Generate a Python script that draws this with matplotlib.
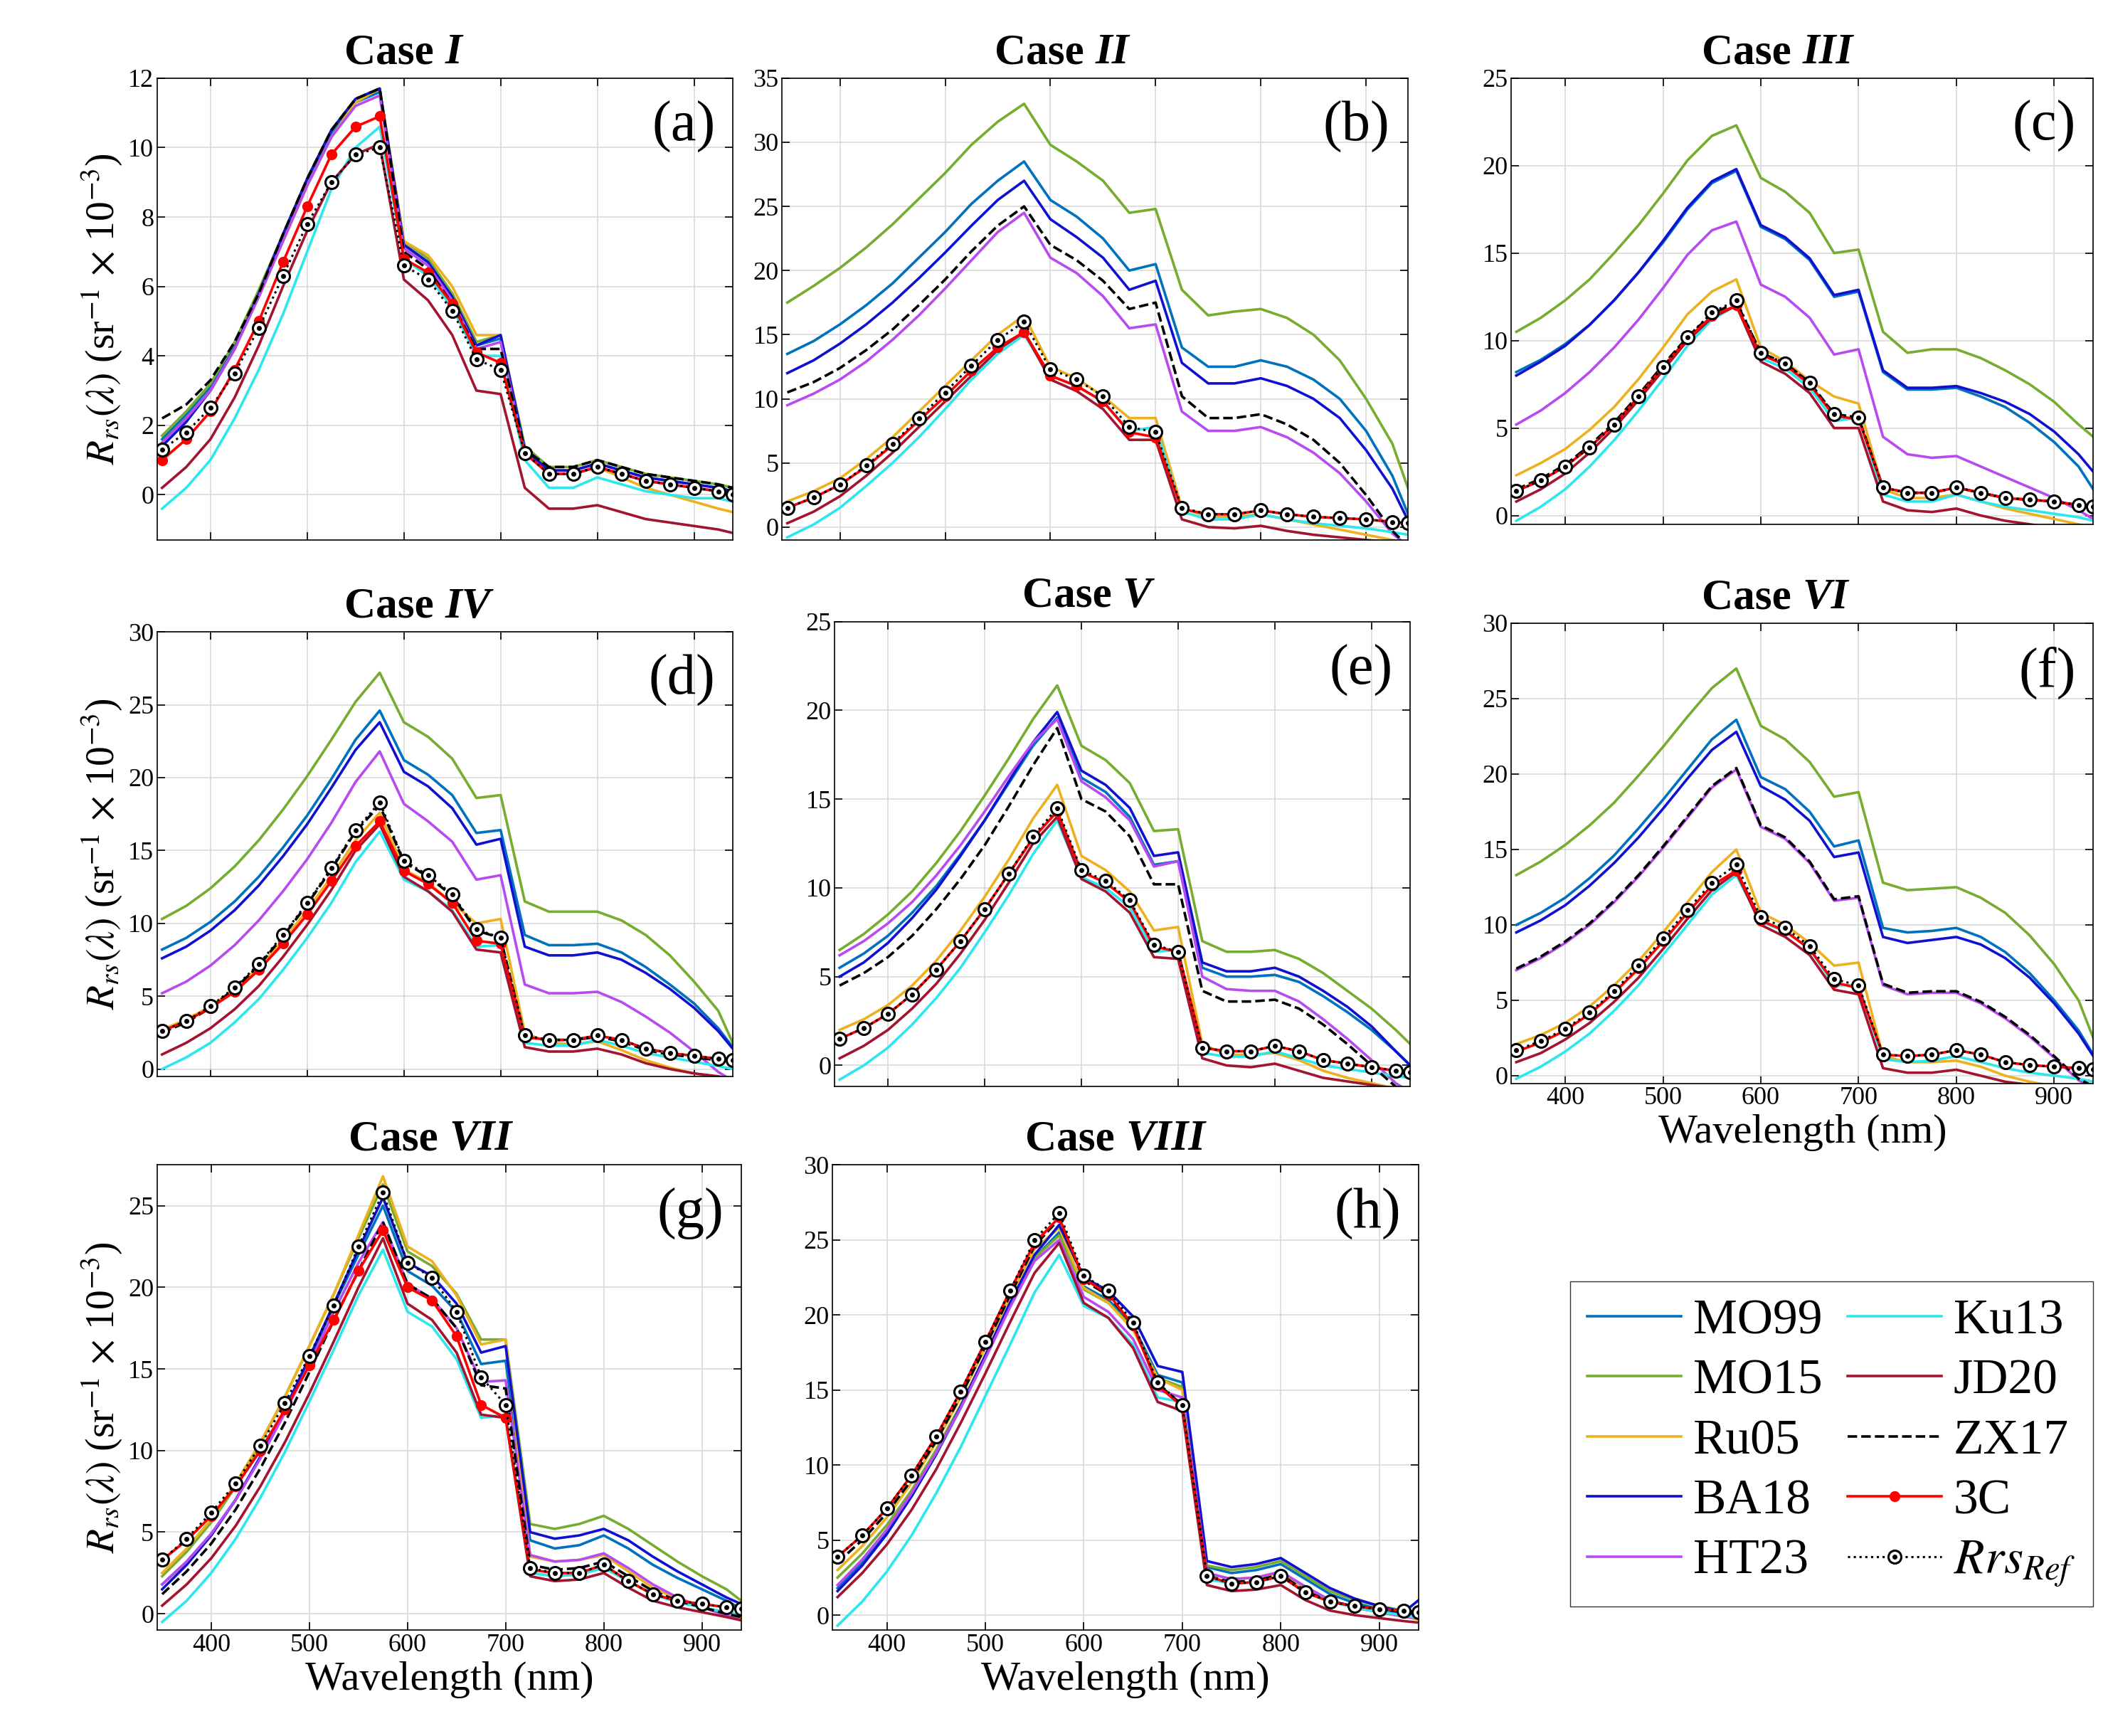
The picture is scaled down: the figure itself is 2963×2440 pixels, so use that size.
import matplotlib
matplotlib.use("Agg")
import matplotlib.pyplot as plt
from matplotlib.legend_handler import HandlerTuple

plt.rcParams["font.family"] = "Liberation Serif"
plt.rcParams["mathtext.fontset"] = "stix"

wl = [350, 375, 400, 425, 450, 475, 500, 525, 550, 575, 600, 625, 650,
      675, 700, 725, 750, 775, 800, 825, 850, 875, 900, 925, 940]

cases = ["I", "II", "III", "IV", "V", "VI", "VII", "VIII"]
letters = ["(a)", "(b)", "(c)", "(d)", "(e)", "(f)", "(g)", "(h)"]
ylims = [(-1.3, 12), (-1, 35), (-0.5, 25), (-0.5, 30), (-1.2, 25), (-0.5, 30), (-1, 27.5), (-1, 30)]
ysteps = [2, 5, 5, 5, 5, 5, 5, 5]

mo99 = [
    [1.6,2.3,3.1,4.3,5.8,7.4,9.0,10.4,11.3,11.6,7.2,6.7,5.7,4.3,4.5,1.3,0.7,0.7,0.9,0.7,0.5,0.4,0.3,0.2,0.1],
    [13.5,14.5,15.8,17.3,19.0,21.0,23.0,25.2,27.0,28.5,25.5,24.2,22.5,20.0,20.5,14.0,12.5,12.5,13.0,12.5,11.5,10.0,7.5,4.0,1.0],
    [8.2,8.9,9.8,10.9,12.3,13.9,15.6,17.5,19.0,19.7,16.5,15.8,14.6,12.5,12.8,8.2,7.2,7.2,7.3,6.8,6.2,5.3,4.2,2.8,1.5],
    [8.2,9.0,10.1,11.5,13.2,15.2,17.4,19.9,22.6,24.6,21.2,20.2,18.8,16.2,16.4,9.2,8.5,8.5,8.6,8.0,7.0,5.8,4.5,2.8,1.5],
    [5.5,6.3,7.3,8.6,10.1,11.9,13.8,15.9,18.0,19.6,16.2,15.4,14.0,11.3,11.5,5.5,5.0,5.0,5.1,4.7,3.9,3.0,2.0,0.8,0.0],
    [10.0,10.8,11.8,13.1,14.6,16.4,18.3,20.3,22.3,23.6,19.8,19.0,17.5,15.2,15.6,9.8,9.5,9.6,9.8,9.2,8.2,6.8,5.0,3.0,1.4],
    [1.8,3.2,4.9,7.0,9.6,12.5,15.6,18.9,22.0,25.0,21.0,20.1,18.5,15.3,15.5,4.5,4.0,4.2,4.8,4.0,3.0,2.2,1.5,0.8,0.3],
    [1.8,3.5,5.5,7.9,10.7,13.8,17.2,20.6,23.8,25.5,21.9,21.0,19.3,16.0,15.5,3.2,2.8,3.0,3.4,2.4,1.4,0.8,0.4,0.1,0.0],
]
mo15 = [
    [1.7,2.4,3.2,4.4,5.9,7.5,9.1,10.5,11.4,11.7,7.3,6.8,5.8,4.4,4.6,1.4,0.8,0.8,1.0,0.8,0.6,0.5,0.4,0.3,0.2],
    [17.5,18.8,20.2,21.8,23.6,25.6,27.6,29.8,31.6,33.0,29.8,28.5,27.0,24.5,24.8,18.5,16.5,16.8,17.0,16.3,15.0,13.0,10.0,6.5,3.0],
    [10.5,11.3,12.3,13.5,15.0,16.6,18.4,20.3,21.7,22.3,19.3,18.5,17.3,15.0,15.2,10.5,9.3,9.5,9.5,9.0,8.3,7.5,6.5,5.2,4.5],
    [10.3,11.2,12.4,13.9,15.7,17.8,20.1,22.6,25.2,27.2,23.8,22.8,21.3,18.6,18.8,11.5,10.8,10.8,10.8,10.2,9.2,7.8,6.0,4.0,1.8],
    [6.5,7.4,8.5,9.8,11.4,13.2,15.2,17.3,19.5,21.4,18.0,17.2,15.9,13.2,13.3,7.0,6.4,6.4,6.5,6.0,5.2,4.2,3.2,2.0,1.2],
    [13.3,14.2,15.3,16.6,18.1,19.9,21.8,23.8,25.7,27.0,23.2,22.3,20.8,18.5,18.8,12.8,12.3,12.4,12.5,11.8,10.8,9.3,7.4,5.0,2.5],
    [2.3,3.8,5.6,7.8,10.4,13.3,16.4,19.6,23.0,26.3,22.2,21.3,19.6,16.8,16.8,5.5,5.2,5.5,6.0,5.2,4.2,3.2,2.3,1.5,0.8],
    [2.5,4.1,6.0,8.3,11.0,14.0,17.3,20.7,23.8,25.3,21.7,20.8,19.1,15.8,15.2,3.3,3.0,3.2,3.6,2.6,1.6,1.0,0.6,0.3,0.2],
]
ru05 = [
    [1.5,2.2,3.0,4.2,5.7,7.3,8.9,10.3,11.3,11.7,7.3,6.9,6.0,4.6,4.6,1.2,0.6,0.6,0.8,0.5,0.2,0.0,-0.2,-0.4,-0.5],
    [2.0,2.8,3.8,5.3,7.0,9.0,11.0,13.0,15.0,16.5,12.5,11.6,10.2,8.5,8.5,1.5,0.8,0.8,1.0,0.6,0.2,-0.2,-0.6,-1.0,-1.2],
    [2.3,3.0,3.8,4.9,6.2,7.8,9.6,11.5,12.8,13.5,9.6,8.8,7.7,6.8,6.4,1.5,1.0,1.0,1.2,0.8,0.4,0.1,-0.2,-0.5,-0.7],
    [2.7,3.4,4.3,5.5,7.0,8.8,10.9,13.2,15.7,17.6,13.7,12.8,11.4,10.0,10.3,2.5,1.8,1.7,1.9,1.3,0.6,0.1,-0.3,-0.6,-0.8],
    [2.0,2.6,3.4,4.5,5.9,7.6,9.5,11.6,13.9,15.8,11.8,11.0,9.8,7.6,7.8,1.2,0.6,0.6,0.7,0.3,-0.3,-0.7,-1.0,-1.3,-1.5],
    [2.1,2.7,3.5,4.6,6.0,7.6,9.5,11.5,13.5,15.0,10.8,10.0,8.8,7.3,7.5,1.3,0.9,0.9,1.0,0.6,0.0,-0.4,-0.7,-1.0,-1.2],
    [2.5,4.0,5.8,8.0,10.5,13.3,16.4,19.6,23.2,26.8,22.5,21.6,19.5,16.5,16.8,3.5,3.2,3.3,3.6,2.6,1.6,0.9,0.4,0.0,-0.3],
    [3.0,4.6,6.5,8.8,11.5,14.5,17.8,21.2,24.4,25.8,21.8,20.8,19.0,15.8,15.0,2.8,2.4,2.5,2.8,1.8,1.0,0.5,0.2,-0.1,-0.3],
]
ba18 = [
    [1.4,2.1,3.0,4.2,5.8,7.5,9.1,10.5,11.4,11.7,7.2,6.7,5.7,4.3,4.6,1.3,0.7,0.7,0.9,0.7,0.5,0.4,0.3,0.2,0.1],
    [12.0,13.0,14.3,15.8,17.5,19.4,21.4,23.5,25.5,27.0,24.0,22.6,21.0,18.5,19.2,12.8,11.2,11.2,11.6,11.0,10.0,8.5,6.0,3.0,0.5],
    [8.0,8.8,9.7,10.9,12.3,13.9,15.7,17.6,19.1,19.8,16.6,15.9,14.7,12.6,12.9,8.3,7.3,7.3,7.4,7.0,6.5,5.8,4.8,3.5,2.5],
    [7.6,8.4,9.5,10.9,12.6,14.6,16.8,19.3,21.9,23.8,20.4,19.4,17.9,15.4,15.8,8.4,7.8,7.8,8.0,7.5,6.6,5.5,4.2,2.6,1.4],
    [5.0,5.8,6.9,8.3,9.9,11.8,13.8,16.0,18.2,19.9,16.6,15.8,14.5,11.8,12.0,5.8,5.3,5.3,5.5,5.0,4.2,3.3,2.2,0.8,0.0],
    [9.5,10.3,11.3,12.6,14.1,15.8,17.7,19.7,21.6,22.8,19.2,18.3,16.9,14.5,14.8,9.2,8.8,9.0,9.2,8.7,7.8,6.5,4.8,2.8,1.3],
    [1.5,3.0,4.8,7.0,9.6,12.5,15.7,19.0,22.3,25.5,21.5,20.7,19.0,16.0,16.4,5.0,4.6,4.8,5.2,4.5,3.5,2.6,1.8,1.0,0.6],
    [1.6,3.3,5.4,7.9,10.7,13.9,17.3,20.8,24.0,26.0,22.5,21.6,19.9,16.6,16.2,3.6,3.2,3.4,3.8,2.8,1.8,1.1,0.6,0.2,1.0],
]
ht23 = [
    [1.5,2.2,3.0,4.2,5.7,7.3,8.9,10.3,11.2,11.5,7.1,6.6,5.6,4.2,4.4,1.2,0.6,0.6,0.8,0.6,0.4,0.3,0.2,0.1,0.0],
    [9.5,10.4,11.5,12.9,14.6,16.5,18.6,20.8,23.0,24.5,21.0,19.8,18.0,15.5,15.8,9.0,7.5,7.5,7.8,7.0,5.8,4.2,2.0,-0.5,-1.5],
    [5.2,6.0,7.0,8.2,9.6,11.2,13.0,14.9,16.3,16.8,13.2,12.5,11.3,9.2,9.5,4.5,3.5,3.3,3.4,2.8,2.2,1.6,1.0,0.3,-0.2],
    [5.2,6.0,7.1,8.5,10.2,12.2,14.4,16.9,19.7,21.8,18.2,17.0,15.6,13.0,13.3,5.8,5.2,5.2,5.3,4.6,3.6,2.5,1.2,-0.2,-0.8],
    [6.2,7.0,8.0,9.2,10.7,12.4,14.3,16.3,18.2,19.5,16.0,15.1,13.8,11.2,11.5,5.0,4.3,4.2,4.2,3.6,2.6,1.5,0.3,-1.0,-1.5],
    [7.0,7.8,8.8,10.0,11.5,13.2,15.1,17.1,19.1,20.3,16.5,15.7,14.1,11.6,11.8,6.0,5.4,5.5,5.5,4.8,3.8,2.6,1.2,-0.3,-0.8],
    [1.8,3.2,4.9,7.0,9.5,12.3,15.3,18.5,21.5,24.0,20.2,19.3,17.5,14.2,14.3,3.6,3.2,3.3,3.7,2.8,1.8,1.0,0.4,-0.1,-0.4],
    [2.0,3.7,5.7,8.1,10.8,13.8,17.1,20.5,23.6,25.0,21.2,20.2,18.4,15.0,14.5,2.8,2.4,2.5,2.9,1.9,1.0,0.5,0.2,-0.1,-0.2],
]
ku13 = [
    [-0.4,0.2,1.0,2.2,3.6,5.2,7.0,8.8,10.0,10.6,6.8,6.3,5.4,4.0,4.0,1.0,0.2,0.2,0.5,0.3,0.1,0.0,-0.1,-0.1,-0.2],
    [-0.8,0.2,1.5,3.2,5.0,7.0,9.2,11.5,13.5,15.0,11.8,11.0,9.8,7.5,7.8,1.2,0.6,0.6,1.0,0.6,0.3,0.1,-0.1,-0.4,-0.6],
    [-0.3,0.5,1.5,2.8,4.3,6.0,7.8,9.7,11.2,12.0,9.0,8.4,7.3,5.4,5.6,1.2,0.8,0.8,1.2,0.8,0.5,0.3,0.1,-0.1,-0.3],
    [0.0,0.8,1.8,3.2,4.8,6.8,9.0,11.4,14.2,16.3,13.0,12.2,10.9,8.4,8.5,1.8,1.6,1.6,2.0,1.6,1.1,0.8,0.5,0.2,0.0],
    [-0.8,0.0,1.0,2.3,3.8,5.5,7.5,9.6,11.9,13.8,10.6,10.0,8.9,6.4,6.5,0.7,0.5,0.5,0.8,0.4,0.0,-0.2,-0.4,-0.6,-0.7],
    [-0.2,0.6,1.6,2.8,4.3,6.0,8.0,10.0,12.0,13.3,10.2,9.6,8.4,6.0,6.0,1.1,0.9,1.0,1.3,0.9,0.5,0.2,0.0,-0.2,-0.4],
    [-0.5,0.8,2.5,4.6,7.1,9.9,13.0,16.2,19.5,22.3,18.5,17.6,15.6,12.0,12.2,2.5,2.3,2.4,2.8,2.0,1.2,0.7,0.4,0.1,-0.1],
    [-0.7,0.9,2.9,5.3,8.1,11.2,14.6,18.0,21.5,24.0,20.6,19.8,18.0,14.5,14.2,2.4,2.1,2.2,2.6,1.6,0.9,0.5,0.2,0.0,-0.2],
]
jd20 = [
    [0.2,0.8,1.6,2.8,4.3,6.0,7.6,9.0,9.8,10.1,6.2,5.6,4.6,3.0,2.9,0.2,-0.4,-0.4,-0.3,-0.5,-0.7,-0.8,-0.9,-1.0,-1.1],
    [0.3,1.2,2.4,4.0,5.8,7.8,9.8,11.8,13.8,15.2,11.5,10.6,9.2,6.8,6.8,0.6,0.0,-0.1,0.1,-0.3,-0.6,-0.8,-1.0,-1.2,-1.4],
    [0.8,1.5,2.4,3.6,5.0,6.6,8.3,10.0,11.3,12.0,8.8,8.1,7.0,5.0,5.0,0.8,0.3,0.2,0.4,0.0,-0.3,-0.5,-0.7,-0.9,-1.0],
    [1.0,1.8,2.8,4.1,5.7,7.7,9.9,12.3,15.0,16.8,13.2,12.2,10.8,8.2,8.0,1.5,1.2,1.2,1.4,1.0,0.4,0.0,-0.3,-0.5,-0.7],
    [0.4,1.1,2.0,3.2,4.6,6.3,8.2,10.3,12.5,14.0,10.5,9.8,8.6,6.1,6.0,0.4,0.0,-0.1,0.1,-0.3,-0.7,-0.9,-1.1,-1.3,-1.4],
    [0.9,1.5,2.4,3.5,4.9,6.5,8.4,10.4,12.3,13.5,10.0,9.2,8.0,5.7,5.4,0.5,0.2,0.2,0.4,0.0,-0.4,-0.6,-0.8,-1.0,-1.1],
    [0.5,1.8,3.4,5.4,7.8,10.5,13.5,16.7,20.0,23.0,19.0,18.0,16.0,12.2,12.0,2.3,2.0,2.1,2.5,1.6,0.8,0.4,0.1,-0.2,-0.4],
    [1.2,2.8,4.7,7.0,9.7,12.8,16.1,19.5,22.8,24.8,20.8,19.8,17.8,14.2,13.6,2.0,1.6,1.7,2.0,1.0,0.3,0.0,-0.2,-0.4,-0.5],
]
zx17 = [
    [2.2,2.6,3.3,4.4,5.8,7.5,9.1,10.5,11.4,11.7,7.0,6.5,5.5,4.2,4.2,1.3,0.8,0.8,1.0,0.8,0.6,0.5,0.4,0.3,0.2],
    [10.5,11.3,12.4,13.8,15.4,17.3,19.3,21.5,23.5,25.0,22.0,20.8,19.2,17.0,17.5,10.2,8.5,8.5,8.8,8.0,6.8,5.0,2.5,-0.3,-1.5],
    [1.5,2.1,2.9,4.0,5.3,6.9,8.6,10.2,11.5,12.2,9.3,8.7,7.6,5.8,5.6,1.6,1.3,1.3,1.6,1.3,1.0,0.9,0.8,0.6,0.5],
    [2.5,3.2,4.2,5.5,7.1,9.1,11.3,13.7,16.3,18.1,14.2,13.2,11.9,9.5,9.0,2.2,2.0,2.0,2.2,1.9,1.3,1.0,0.8,0.6,0.5],
    [4.5,5.2,6.1,7.3,8.8,10.5,12.4,14.6,16.9,19.0,15.0,14.3,12.9,10.2,10.2,4.2,3.6,3.6,3.7,3.2,2.3,1.2,0.0,-1.2,-1.6],
    [7.1,7.9,8.9,10.1,11.6,13.3,15.2,17.2,19.2,20.4,16.6,15.8,14.2,11.7,11.9,6.1,5.5,5.6,5.6,4.9,3.9,2.7,1.3,-0.2,-0.7],
    [1.2,2.6,4.3,6.4,8.9,11.7,14.8,18.0,21.0,24.0,20.2,19.3,17.5,14.0,13.8,3.0,2.7,2.8,3.2,2.3,1.4,0.8,0.4,0.0,-0.2],
    [3.5,5.0,6.8,9.0,11.6,14.6,17.9,21.3,24.6,26.4,22.3,21.3,19.3,15.4,14.0,2.6,2.2,2.3,2.7,1.6,0.9,0.6,0.4,0.2,0.1],
]
c3 = [
    [1.0,1.6,2.4,3.6,5.0,6.7,8.3,9.8,10.6,10.9,6.8,6.4,5.5,4.1,3.8,1.2,0.6,0.6,0.8,0.6,0.4,0.3,0.2,0.1,0.0],
    [1.5,2.3,3.3,4.7,6.4,8.3,10.2,12.2,14.0,15.2,11.8,11.0,9.8,7.4,7.0,1.4,1.0,1.0,1.3,1.0,0.8,0.7,0.6,0.4,0.3],
    [1.4,2.0,2.8,3.9,5.2,6.8,8.5,10.1,11.4,12.0,9.2,8.6,7.5,5.7,5.5,1.6,1.3,1.3,1.6,1.3,1.0,0.9,0.8,0.6,0.5],
    [2.6,3.3,4.2,5.3,6.8,8.6,10.6,12.9,15.3,17.0,13.6,12.7,11.4,8.8,8.6,2.2,2.0,2.0,2.3,2.0,1.4,1.1,0.9,0.7,0.6],
    [1.5,2.1,2.9,4.0,5.4,7.0,8.8,10.8,12.8,14.3,10.9,10.3,9.2,6.7,6.4,1.0,0.8,0.8,1.1,0.8,0.3,0.1,-0.1,-0.3,-0.4],
    [1.6,2.2,3.0,4.1,5.5,7.1,8.9,10.8,12.6,13.6,10.3,9.6,8.4,6.2,5.8,1.4,1.3,1.4,1.7,1.4,0.9,0.7,0.6,0.5,0.4],
    [3.3,4.5,6.0,7.8,10.0,12.5,15.2,18.0,21.0,23.5,20.0,19.2,17.0,12.8,12.0,2.7,2.5,2.5,3.0,2.0,1.2,0.8,0.6,0.4,0.3],
    [3.9,5.3,7.1,9.3,11.9,14.9,18.2,21.6,24.8,26.5,22.4,21.4,19.3,15.3,13.9,2.6,2.1,2.2,2.6,1.5,0.9,0.6,0.4,0.3,0.2],
]
ref = [
    [1.3,1.8,2.5,3.5,4.8,6.3,7.8,9.0,9.8,10.0,6.6,6.2,5.3,3.9,3.6,1.2,0.6,0.6,0.8,0.6,0.4,0.3,0.2,0.1,0.0],
    [1.5,2.3,3.3,4.8,6.5,8.5,10.5,12.6,14.6,16.0,12.3,11.5,10.2,7.8,7.4,1.5,1.0,1.0,1.3,1.0,0.8,0.7,0.6,0.4,0.3],
    [1.4,2.0,2.8,3.9,5.2,6.8,8.5,10.2,11.6,12.3,9.3,8.7,7.6,5.8,5.6,1.6,1.3,1.3,1.6,1.3,1.0,0.9,0.8,0.6,0.5],
    [2.6,3.3,4.3,5.6,7.2,9.2,11.4,13.8,16.4,18.3,14.3,13.3,12.0,9.6,9.0,2.3,2.0,2.0,2.3,2.0,1.4,1.1,0.9,0.7,0.6],
    [1.5,2.1,2.9,4.0,5.4,7.0,8.8,10.8,12.9,14.5,11.0,10.4,9.3,6.8,6.4,1.0,0.8,0.8,1.1,0.8,0.3,0.1,-0.1,-0.3,-0.4],
    [1.7,2.3,3.1,4.2,5.6,7.3,9.1,11.0,12.8,14.0,10.5,9.8,8.6,6.4,6.0,1.4,1.3,1.4,1.7,1.4,0.9,0.7,0.6,0.5,0.4],
    [3.3,4.6,6.2,8.0,10.3,12.9,15.8,18.9,22.5,25.8,21.5,20.6,18.5,14.5,12.8,2.8,2.5,2.5,3.0,2.0,1.2,0.8,0.6,0.4,0.3],
    [3.9,5.3,7.1,9.3,11.9,14.9,18.2,21.6,25.0,26.8,22.6,21.6,19.5,15.5,14.0,2.6,2.1,2.2,2.6,1.5,0.9,0.6,0.4,0.3,0.2],
]

models = [("MO99", mo99, "#0072BD"), ("MO15", mo15, "#77AC30"), ("Ru05", ru05, "#EDB120"),
          ("BA18", ba18, "#1010D0"), ("HT23", ht23, "#B84BF0"), ("Ku13", ku13, "#2EE6EE"),
          ("JD20", jd20, "#A2142F")]

positions = [
    [0.0746, 0.689, 0.273, 0.266], [0.371, 0.689, 0.297, 0.266], [0.717, 0.698, 0.276, 0.257],
    [0.0746, 0.380, 0.273, 0.256], [0.396, 0.374, 0.273, 0.268], [0.717, 0.376, 0.276, 0.265],
    [0.0746, 0.061, 0.277, 0.268], [0.395, 0.061, 0.278, 0.268],
]

fig = plt.figure(figsize=(29.63, 24.40), dpi=100)
lw = 2.6
for i in range(8):
    ax = fig.add_axes(positions[i])
    for name, data, col in models:
        ax.plot(wl, data[i], color=col, lw=lw, label=name)
    ax.plot(wl, zx17[i], color="black", ls="--", lw=lw, label="ZX17")
    ax.plot(wl, c3[i], color="red", lw=lw, marker="o", ms=10, label="3C")
    ax.plot(wl, ref[i], color="black", ls=":", lw=2.2, marker="o", ms=13,
            mfc="white", mec="black", mew=2.2)
    ax.plot(wl, ref[i], ls="none", marker="o", ms=4, color="black")
    ax.set_xlim(345, 940)
    ax.set_ylim(*ylims[i])
    ax.set_yticks(range(0, int(ylims[i][1]) + 1, ysteps[i]))
    ax.set_xticks([400, 500, 600, 700, 800, 900])
    ax.grid(True, color="#d9d9d9", lw=1.2)
    ax.tick_params(direction="in", labelsize=26, length=8, width=1.2, top=True, right=True)
    for s in ax.spines.values():
        s.set_linewidth(1.2)
    if i in (5, 6, 7):
        ax.set_xlabel("Wavelength (nm)", fontsize=42)
    else:
        ax.set_xticklabels([])
    if i in (0, 3, 6):
        ax.set_ylabel(r"$R_{rs}(\lambda)$ (sr$^{-1}$ $\times$ 10$^{-3}$)", fontsize=40)
    t = ax.text(0.5, 1.012, "Case ", transform=ax.transAxes, ha="right", va="bottom",
                fontsize=44, fontweight="bold")
    ax.annotate(cases[i], xy=(1, 0), xycoords=t, va="bottom", ha="left",
                fontsize=44, fontweight="bold", fontstyle="italic")
    ax.text(0.97, 0.95, letters[i], transform=ax.transAxes, ha="right", va="top", fontsize=58)

h = fig.axes[0].get_lines()
handles = [h[0], h[1], h[2], h[3], h[4], h[5], h[6], h[7], h[8], (h[9], h[10])]
labels = ["MO99", "MO15", "Ru05", "BA18", "HT23", "Ku13", "JD20", "ZX17", "3C", r"$Rrs_{Ref}$"]
fig.legend(handles, labels, loc="upper left", bbox_to_anchor=(0.733, 0.276), ncol=2,
           fontsize=50, handlelength=1.9, handletextpad=0.25, columnspacing=0.5,
           labelspacing=0.3, borderpad=0.35, frameon=True, fancybox=False, edgecolor="black",
           handler_map={tuple: HandlerTuple(ndivide=1)})

fig.savefig("out.png", dpi=100)
